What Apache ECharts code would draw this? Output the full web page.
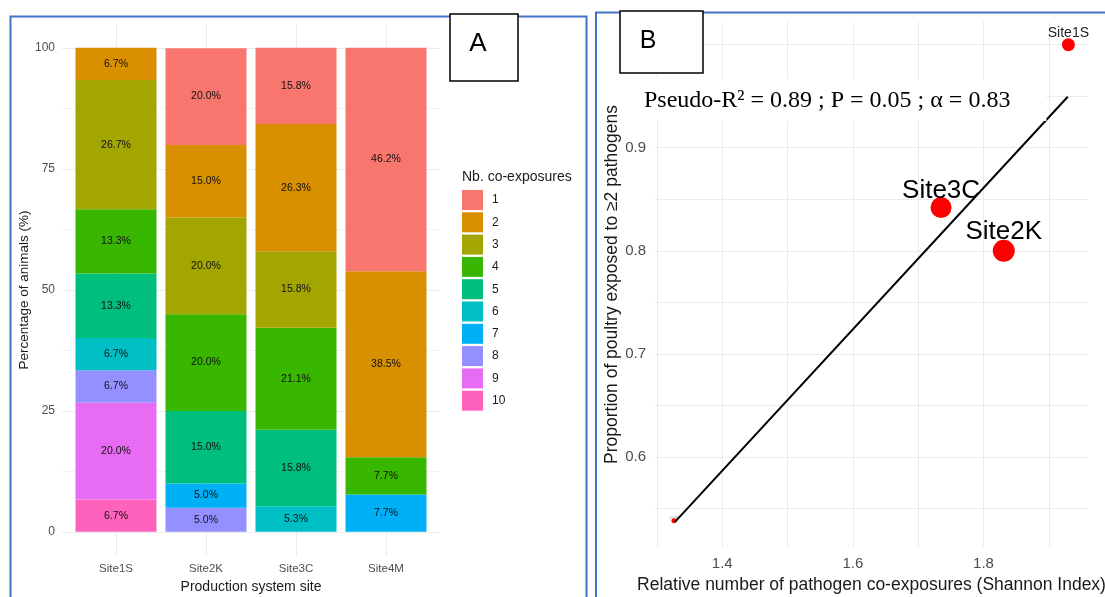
<!DOCTYPE html>
<html><head><meta charset="utf-8">
<script src="https://cdn.jsdelivr.net/npm/echarts@6/dist/echarts.min.js"></script>
<style>html,body{margin:0;padding:0;background:#fff}#c{width:1105px;height:597px}</style>
</head><body><div id="c"></div><script>
// ---------- Panel A data ----------
const sites = ['Site1S', 'Site2K', 'Site3C', 'Site4M'];
const levels = ['1', '2', '3', '4', '5', '6', '7', '8', '9', '10'];
const exp1 = [null, 20.0, 15.8, 46.2];
const exp2 = [6.7, 15.0, 26.3, 38.5];
const exp3 = [26.7, 20.0, 15.8, null];
const exp4 = [13.3, 20.0, 21.1, 7.7];
const exp5 = [13.3, 15.0, 15.8, null];
const exp6 = [6.7, null, 5.3, null];
const exp7 = [null, 5.0, null, 7.7];
const exp8 = [6.7, 5.0, null, null];
const exp9 = [20.0, null, null, null];
const exp10 = [6.7, null, null, null];
const pctTicks = [0, 25, 50, 75, 100];
const pctGrid = [0, 12.5, 25, 37.5, 50, 62.5, 75, 87.5, 100];
const sitePos = [1, 2, 3, 4];

// ---------- Panel B data ----------
const bSites = ['Site1S', 'Site2K', 'Site3C', 'Site4M'];
const shannon = [1.930, 1.831, 1.735, 1.326];
const propExposed = [1.0, 0.80, 0.842, 0.538];
const fitX = [1.3276, 1.929];
const fitY = [0.537, 0.9495];
const xTicksB = [1.4, 1.6, 1.8];
const xGridB = [1.3, 1.4, 1.5, 1.6, 1.7, 1.8, 1.9];
const yTicksB = [0.6, 0.7, 0.8, 0.9, 1.0];
const yGridB = [0.55, 0.6, 0.65, 0.7, 0.75, 0.8, 0.85, 0.9, 0.95, 1.0];
const equation = 'Pseudo-R² = 0.89 ; P = 0.05 ; α = 0.83';

// ---------- styles ----------
const levelColors = ['#F8766D', '#D89000', '#A3A500', '#39B600', '#00BF7D',
                     '#00BFC4', '#00B0F6', '#9590FF', '#E76BF3', '#FF62BC'];
const pointStyle = {
  Site1S: { size: 13, font: 14, dy: -12, color: '#222' },
  Site2K: { size: 22, font: 26, dy: -19, color: '#000' },
  Site3C: { size: 21, font: 26, dy: -17, color: '#000' },
  Site4M: { size: 5, font: 3, dy: -3, color: '#999' }
};
const gridColor = '#ebebeb';
const FONT = 'Liberation Sans';

const allExp = [exp1, exp2, exp3, exp4, exp5, exp6, exp7, exp8, exp9, exp10];

const barSeries = [];
for (let k = levels.length - 1; k >= 0; k--) {
  barSeries.push({
    type: 'bar', name: levels[k], stack: 'total',
    xAxisIndex: 1, yAxisIndex: 1, barWidth: 81,
    itemStyle: { color: levelColors[k] },
    label: {
      show: true, position: 'inside', fontSize: 10.5, color: '#111', fontFamily: FONT,
      formatter: p => (p.value == null ? '' : Number(p.value).toFixed(1) + '%')
    },
    emphasis: { disabled: true },
    data: allExp[k]
  });
}

const scatterData = bSites.map((n, i) => ({
  name: n,
  value: [shannon[i], propExposed[i]],
  symbolSize: pointStyle[n].size,
  label: { fontSize: pointStyle[n].font, offset: [0, pointStyle[n].dy], color: pointStyle[n].color }
}));

const option = {
  animation: false,
  backgroundColor: '#fff',
  textStyle: { fontFamily: FONT },
  grid: [
    { left: 62, top: 24, width: 378, height: 532, outerBoundsMode: 'none' },
    { left: 71, top: 24, width: 360, height: 532, outerBoundsMode: 'none' },
    { left: 655, top: 22, width: 433, height: 525, outerBoundsMode: 'none' }
  ],
  legend: {
    orient: 'vertical', left: 462, top: 190, padding: 0,
    itemWidth: 21, itemHeight: 20, itemGap: 2.3,
    icon: 'rect', data: levels,
    textStyle: { fontSize: 12, color: '#1a1a1a', fontFamily: FONT, padding: [0, 0, 0, 4] },
    selectedMode: false
  },
  xAxis: [
    {
      gridIndex: 0, type: 'value', min: 0.4, max: 4.6,
      axisLine: { show: false },
      axisTick: { show: false, customValues: sitePos },
      axisLabel: { customValues: sitePos, formatter: v => sites[Math.round(v) - 1] || '',
                   fontSize: 11.5, color: '#4d4d4d', margin: 7 },
      splitLine: { show: true, lineStyle: { color: gridColor, width: 1 } },
      name: 'Production system site', nameLocation: 'middle', nameGap: 22,
      nameTextStyle: { fontSize: 14, color: '#1a1a1a' }
    },
    { gridIndex: 1, type: 'category', data: sites, show: false },
    {
      gridIndex: 2, type: 'value', min: 1.297, max: 1.960,
      axisLine: { show: false },
      axisTick: { show: false, customValues: xGridB },
      axisLabel: { customValues: xTicksB, formatter: v => v.toFixed(1),
                   fontSize: 15, color: '#4d4d4d', margin: 9 },
      splitLine: { show: true, lineStyle: { color: gridColor, width: 1 } },
      name: 'Relative number of pathogen co-exposures (Shannon Index)',
      nameLocation: 'middle', nameGap: 27,
      nameTextStyle: { fontSize: 17.5, color: '#1a1a1a' }
    }
  ],
  yAxis: [
    {
      gridIndex: 0, type: 'value', min: -5, max: 105,
      axisLine: { show: false },
      axisTick: { show: false, customValues: pctGrid },
      axisLabel: { customValues: pctTicks, fontSize: 12, color: '#4d4d4d', margin: 7 },
      splitLine: { show: true, lineStyle: { color: [gridColor, '#f3f3f3'], width: 1 } },
      name: 'Percentage of animals (%)', nameLocation: 'middle', nameGap: 25,
      nameTextStyle: { fontSize: 13.5, color: '#1a1a1a' }
    },
    { gridIndex: 1, type: 'value', min: -5, max: 105, show: false, splitLine: { show: false } },
    {
      gridIndex: 2, type: 'value', min: 0.5126, max: 1.022,
      axisLine: { show: false },
      axisTick: { show: false, customValues: yGridB },
      axisLabel: { customValues: yTicksB, formatter: v => v.toFixed(1),
                   fontSize: 15, color: '#4d4d4d', margin: 9 },
      splitLine: { show: true, lineStyle: { color: gridColor, width: 1 } },
      name: 'Proportion of poultry exposed to ≥2 pathogens', nameLocation: 'middle', nameGap: 33,
      nameTextStyle: { fontSize: 17.5, color: '#1a1a1a' }
    }
  ],
  series: barSeries.concat([
    {
      type: 'scatter', xAxisIndex: 2, yAxisIndex: 2, z: 3,
      itemStyle: { color: '#ff0000', opacity: 1 },
      label: { show: true, position: 'inside', formatter: '{b}', fontFamily: FONT },
      emphasis: { disabled: true },
      data: scatterData
    },
    {
      type: 'line', xAxisIndex: 2, yAxisIndex: 2, z: 5,
      symbol: 'none', lineStyle: { color: '#000', width: 2 },
      emphasis: { disabled: true },
      data: fitX.map((x, i) => [x, fitY[i]])
    }
  ]),
  graphic: [
    { type: 'text', left: 462, top: 170, z: 10,
      style: { text: 'Nb. co-exposures', fontSize: 14, fill: '#1a1a1a', fontFamily: FONT } },
    { type: 'text', left: 640, top: 79, z: 50,
      style: { text: equation, fontSize: 24, fill: '#000', fontFamily: 'Liberation Serif',
               backgroundColor: '#fff', padding: [10, 36, 8, 4] } },
    { type: 'rect', shape: { x: 10.5, y: 16.5, width: 576, height: 640 }, z: 60,
      style: { fill: 'none', stroke: '#4472C4', lineWidth: 2 } },
    { type: 'rect', shape: { x: 596, y: 12.5, width: 600, height: 640 }, z: 60,
      style: { fill: 'none', stroke: '#4472C4', lineWidth: 2 } },
    { type: 'rect', shape: { x: 450, y: 14, width: 68, height: 67 }, z: 70,
      style: { fill: '#fff', stroke: '#000', lineWidth: 1.5 } },
    { type: 'text', x: 478, y: 44, z: 71,
      style: { text: 'A', fontSize: 26, fill: '#000', fontFamily: FONT, align: 'center', verticalAlign: 'middle' } },
    { type: 'rect', shape: { x: 620, y: 11, width: 83, height: 62 }, z: 70,
      style: { fill: '#fff', stroke: '#000', lineWidth: 1.5 } },
    { type: 'text', x: 648, y: 41, z: 71,
      style: { text: 'B', fontSize: 25, fill: '#000', fontFamily: FONT, align: 'center', verticalAlign: 'middle' } }
  ]
};

const chart = echarts.init(document.getElementById('c'), null, { renderer: 'canvas' });
chart.setOption(option);
</script></body></html>
